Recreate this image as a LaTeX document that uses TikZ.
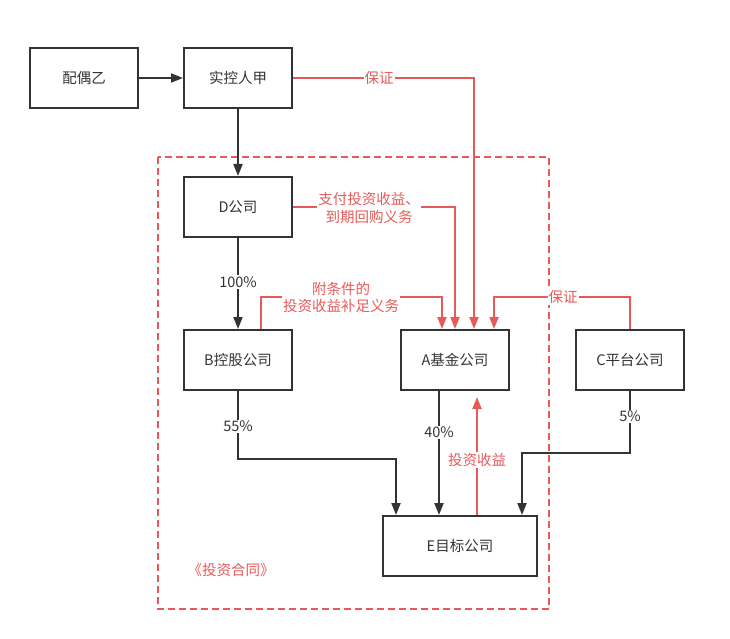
\documentclass[tikz,border=0pt]{standalone}
\usepackage{fontspec}
\setmainfont{Noto Sans CJK SC}
\usetikzlibrary{arrows.meta}
\definecolor{rd}{HTML}{E85A5A}
\definecolor{dk}{HTML}{333333}
\begin{document}
\begin{tikzpicture}[x=1pt,y=-1pt,
  box/.style={draw=dk, line width=2pt, minimum width=108pt, minimum height=60pt, text=dk, font=\fontsize{14.5}{17}\selectfont, inner sep=0pt},
  arr/.style={draw=dk, line width=2pt, -{Triangle[length=12pt,width=9pt]}},
  rarr/.style={draw=rd, line width=2pt, -{Triangle[length=12pt,width=9pt]}},
  lbl/.style={fill=white, text=dk, font=\fontsize{14.5}{17}\selectfont, inner sep=1pt},
  rlbl/.style={fill=white, text=rd, font=\fontsize{14.5}{17.5}\selectfont, inner sep=1pt, align=center}]
\useasboundingbox (0,0) rectangle (730,639);
\fill[white] (0,0) rectangle (730,639);
\draw[rd, line width=1.6pt, dash pattern=on 7pt off 4pt] (158,157) rectangle (549,609);

\node[box] (p) at (84,78) {配偶乙};
\node[box] (s) at (238,78) {实控人甲};
\node[box] (d) at (238,207) {D公司};
\node[box] (b) at (238,360) {B控股公司};
\node[box] (a) at (455,360) {A基金公司};
\node[box] (c) at (630,360) {C平台公司};
\node[box, minimum width=154pt] (e) at (460,546) {E目标公司};

\coordinate (g1) at (474,78);
\coordinate (bk) at (261,297);
\coordinate (ck) at (630,297);
\coordinate (bl) at (238,459);
\coordinate (cl) at (630,453);
\coordinate (ae) at (439,0);
\coordinate (ea) at (477,0);
\coordinate (eb) at (396,0);
\coordinate (ec) at (522,0);
\coordinate (atip) at (477,397);

% black connectors
\draw[arr] (p) -- (s);
\draw[arr] (s) -- (d);
\draw[arr] (d) -- (b);
\draw[arr] (b.south) -- (bl) -| (e.north -| eb);
\draw[arr] (a.south -| ae) -- (e.north -| ae);
\draw[arr] (c.south) -- (cl) -| (e.north -| ec);

% red connectors
\draw[rarr] (s.east) -- (g1) -- ([xshift=19pt]a.north);
\draw[rarr] (d.east) -| (a.north);
\draw[rarr] (b.north -| bk) -- (bk) -| ([xshift=-13pt]a.north);
\draw[rarr] (c.north) -- (ck) -| ([xshift=39pt]a.north);
\draw[rarr] (e.north -| ea) -- (atip);

% labels
\node[rlbl] (l1) at (379,78) {保证};
\node[rlbl] (l2) at (369,208) {支付投资收益、\\到期回购义务};
\node[rlbl] (l3) at (341,297.5) {附条件的\\投资收益补足义务};
\node[rlbl] (l4) at (563,297) {保证};
\node[rlbl] (l5) at (477,460) {投资收益};
\node[lbl] (p1) at (238,282) {100\%};
\node[lbl] (p2) at (238,426) {55\%};
\node[lbl] (p3) at (439,432) {40\%};
\node[lbl] (p4) at (630,416) {5\%};
\node[text=rd, font=\fontsize{14.5}{17}\selectfont] (k) at (231,570) {《投资合同》};
\end{tikzpicture}
\end{document}
